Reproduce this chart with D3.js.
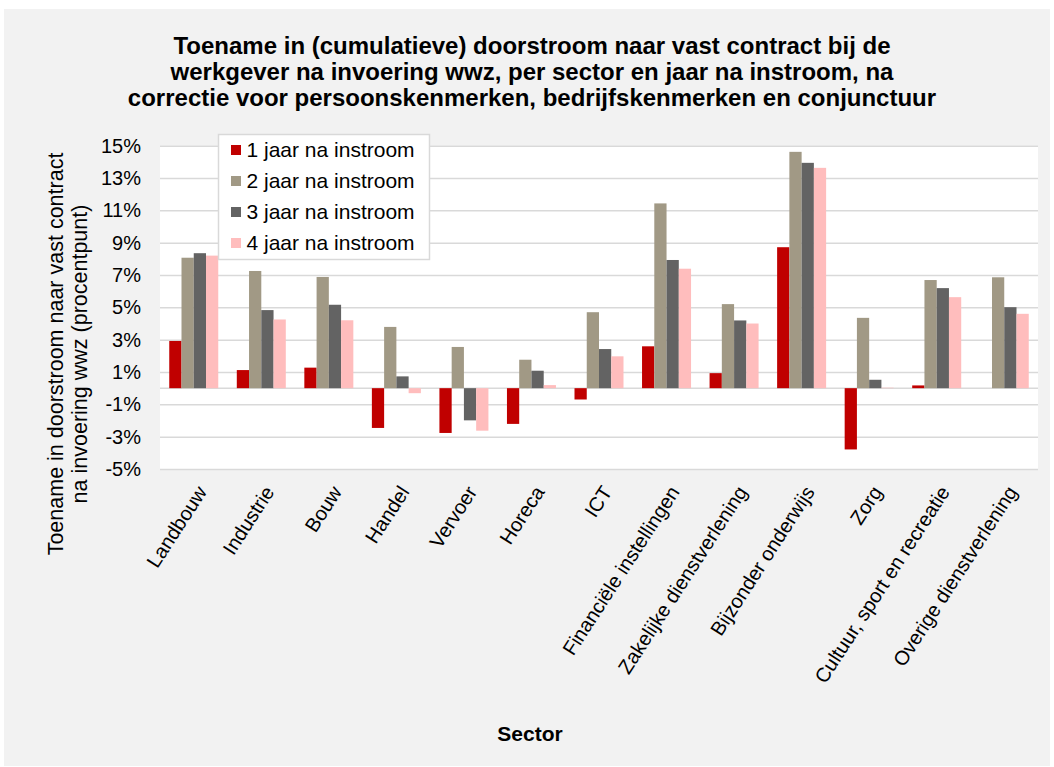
<!DOCTYPE html>
<html>
<head>
<meta charset="utf-8">
<script src="https://cdn.jsdelivr.net/npm/d3@7"></script>
<style>
  html, body { margin: 0; padding: 0; background: #ffffff; }
  svg { display: block; font-family: "Liberation Sans", Arial, sans-serif; }
</style>
</head>
<body>
<svg id="chart" width="1054" height="767"></svg>
<script>
const categories = ["Landbouw", "Industrie", "Bouw", "Handel", "Vervoer", "Horeca", "ICT",
  "Financiële instellingen", "Zakelijke dienstverlening", "Bijzonder onderwijs", "Zorg",
  "Cultuur, sport en recreatie", "Overige dienstverlening"];
const seriesNames = ["1 jaar na instroom", "2 jaar na instroom", "3 jaar na instroom", "4 jaar na instroom"];
const jaar1 = [2.92, 1.12, 1.27, -2.46, -2.77, -2.21, -0.70, 2.59, 0.93, 8.72, -3.79, 0.17, 0.00];
const jaar2 = [8.07, 7.25, 6.88, 3.79, 2.55, 1.76, 4.70, 11.43, 5.20, 14.62, 4.35, 6.69, 6.86];
const jaar3 = [8.35, 4.83, 5.16, 0.73, -1.99, 1.08, 2.42, 7.93, 4.19, 13.94, 0.52, 6.19, 5.01];
const jaar4 = [8.20, 4.25, 4.20, -0.31, -2.63, 0.19, 1.97, 7.39, 4.00, 13.63, 0.03, 5.63, 4.60];
const yTicks = [-5, -3, -1, 1, 3, 5, 7, 9, 11, 13, 15];
const colors = ["#c00000", "#a19985", "#636363", "#ffbdbd"];
const titleLines = [
  "Toename in (cumulatieve) doorstroom naar vast contract bij de",
  "werkgever na invoering wwz, per sector en jaar na instroom, na",
  "correctie voor persoonskenmerken, bedrijfskenmerken en conjunctuur"
];
const yTitleLines = ["Toename in doorstroom naar vast contract", "na invoering wwz (procentpunt)"];
const xTitle = "Sector";

const series = [jaar1, jaar2, jaar3, jaar4];
const svg = d3.select("#chart");

// background panel
svg.append("rect").attr("x", 4).attr("y", 9).attr("width", 1046).attr("height", 757).attr("fill", "#f2f2f2");

const plot = { left: 160, right: 1038, top: 145.7, bottom: 469 };

const y = d3.scaleLinear().domain([-5, 15]).range([plot.bottom, plot.top]);
const x0 = d3.scaleBand().domain(categories).range([plot.left, plot.right]).paddingInner(0.2745).paddingOuter(0.137);
const x1 = d3.scaleBand().domain(d3.range(series.length)).range([0, x0.bandwidth()]);

// plot area
svg.append("rect").attr("x", plot.left).attr("y", plot.top)
  .attr("width", plot.right - plot.left).attr("height", plot.bottom - plot.top).attr("fill", "#ffffff");

// grid lines via axis
const yAxis = d3.axisLeft(y).tickValues(yTicks).tickSize(-(plot.right - plot.left)).tickPadding(19)
  .tickFormat(d => d + "%");
const gy = svg.append("g").attr("transform", `translate(${plot.left},0)`).call(yAxis);
gy.select(".domain").remove();
gy.selectAll(".tick line").attr("stroke", "#d9d9d9").attr("stroke-width", 1.5);
gy.selectAll(".tick text").attr("font-size", 20).attr("fill", "#000").attr("font-family", "Liberation Sans, Arial, sans-serif");

// zero line
svg.append("line").attr("x1", plot.left).attr("x2", plot.right).attr("y1", y(0)).attr("y2", y(0))
  .attr("stroke", "#d9d9d9").attr("stroke-width", 1.5);

// bars
const groups = svg.append("g").selectAll("g").data(categories).join("g")
  .attr("transform", d => `translate(${x0(d)},0)`);
groups.selectAll("rect").data((d, i) => series.map((s, k) => ({ k, v: s[i] }))).join("rect")
  .attr("x", d => x1(d.k))
  .attr("width", x1.bandwidth())
  .attr("y", d => y(Math.max(0, d.v)))
  .attr("height", d => Math.abs(y(d.v) - y(0)))
  .attr("fill", d => colors[d.k]);

// x axis labels
const xAxis = d3.axisBottom(x0).tickSize(0).tickPadding(0);
const gx = svg.append("g").attr("transform", `translate(0,${plot.bottom})`).call(xAxis);
gx.select(".domain").remove();
gx.selectAll(".tick text")
  .attr("font-size", 20).attr("fill", "#000").attr("font-family", "Liberation Sans, Arial, sans-serif")
  .attr("text-anchor", "end")
  .attr("dy", "0.35em")
  .attr("transform", "translate(8,19) rotate(-57)")
  .attr("y", 0).attr("x", 0);

// title
svg.append("text").attr("x", 532).attr("y", 54).attr("text-anchor", "middle")
  .attr("font-size", 24).attr("font-weight", "bold")
  .selectAll("tspan").data(titleLines).join("tspan")
  .attr("x", 532).attr("dy", (d, i) => i === 0 ? 0 : 26).text(d => d);

// y title
svg.append("text").attr("transform", `translate(63,354) rotate(-90)`)
  .attr("text-anchor", "middle").attr("font-size", 21.5)
  .selectAll("tspan").data(yTitleLines).join("tspan")
  .attr("x", 0).attr("dy", (d, i) => i === 0 ? 0 : 24).text(d => d);

// x title
svg.append("text").attr("x", 530).attr("y", 741).attr("text-anchor", "middle")
  .attr("font-size", 21).attr("font-weight", "bold").text(xTitle);

// legend
const lg = svg.append("g");
lg.append("rect").attr("x", 218.5).attr("y", 134.5).attr("width", 211).attr("height", 125)
  .attr("fill", "#ffffff").attr("stroke", "#d9d9d9").attr("stroke-width", 1.5);
const items = lg.selectAll("g.item").data(seriesNames).join("g").attr("class", "item")
  .attr("transform", (d, i) => `translate(231,${150 + i * 31})`);
items.append("rect").attr("x", 0).attr("y", -5).attr("width", 10).attr("height", 10)
  .attr("fill", (d, i) => colors[i]);
items.append("text").attr("x", 15.5).attr("dy", "0.35em").attr("font-size", 21).text(d => d);
</script>
</body>
</html>
